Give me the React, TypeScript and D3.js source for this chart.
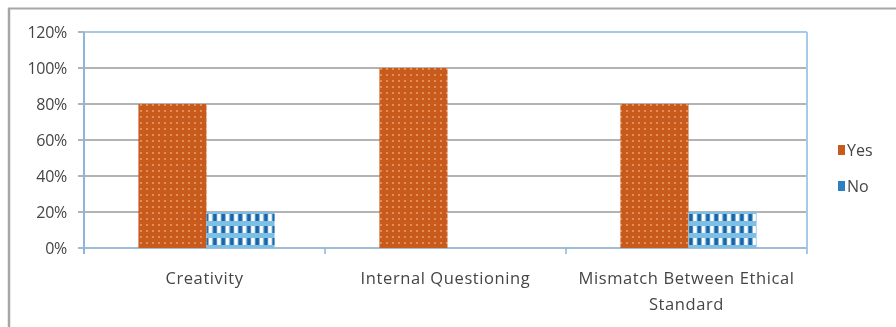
import React from "react";
import * as d3 from "d3";

// Survey results by reason category
const categories = ["Creativity", "Internal Questioning", "Mismatch Between Ethical Standard"];
const yesValues = [80, 100, 80];
const noValues = [20, 0, 20];
const seriesNames = ["Yes", "No"];
const yTicks = [0, 20, 40, 60, 80, 100, 120];

const W = 896;
const H = 327;
const plot = { left: 84, right: 807, top: 32, bottom: 248 };
const FONT = "'Open Sans', 'Liberation Sans', sans-serif";
const TEXT = "#454545";

export default function App() {
  const x = d3
    .scaleBand<string>()
    .domain(categories)
    .range([plot.left, plot.right])
    .paddingInner(0)
    .paddingOuter(0);
  const inner = d3
    .scaleBand<string>()
    .domain(seriesNames)
    .range([0, x.bandwidth()])
    .paddingInner(0)
    .paddingOuter(0.77);
  const y = d3.scaleLinear().domain([0, 120]).range([plot.bottom, plot.top]);

  const rows = categories.map((c, i) => ({ c, vals: [yesValues[i], noValues[i]] }));
  const fills = ["url(#patYes)", "url(#patNo)"];

  const catLines = (c: string) =>
    c === "Mismatch Between Ethical Standard" ? ["Mismatch Between Ethical", "Standard"] : [c];

  return (
    <svg
      width={W}
      height={H}
      style={{ position: "absolute", left: 0, top: 0, display: "block", background: "#fff" }}
    >
      <defs>
        <pattern id="patYes" width={6} height={6} patternUnits="userSpaceOnUse">
          <rect width={6} height={6} fill="#c85a1e" />
          <circle cx={3} cy={3} r={1.1} fill="#e89a68" />
        </pattern>
        <pattern id="patNo" width={8.5} height={12} patternUnits="userSpaceOnUse" y={plot.bottom}>
          <rect width={8.5} height={12} fill="#7cc0e6" />
          <rect x={0.5} y={2} width={4} height={7} fill="#1c63a6" />
          <rect x={4.5} y={2} width={3.6} height={7} fill="#ffffff" />
        </pattern>
        <filter id="soft" x="-5%" y="-5%" width="110%" height="110%">
          <feGaussianBlur stdDeviation={0.45} />
        </filter>
      </defs>

      <g filter="url(#soft)">
        {/* outer chart border */}
        <line x1={9} x2={9} y1={8} y2={H} stroke="#a6a6a6" strokeWidth={2.5} />
        <line x1={8} x2={W} y1={8.5} y2={8.5} stroke="#a6a6a6" strokeWidth={2} />

        {/* gridlines */}
        {yTicks.map((t) => (
          <line
            key={t}
            x1={plot.left - 6}
            x2={plot.right}
            y1={y(t)}
            y2={y(t)}
            stroke={t === 0 ? "#7fa6cc" : "#9a9a9a"}
            strokeWidth={1.6}
          />
        ))}

        {/* plot area outline */}
        <line x1={plot.left} x2={plot.right} y1={plot.top} y2={plot.top} stroke="#a9c9e6" strokeWidth={2} />
        <line x1={plot.right} x2={plot.right} y1={plot.top} y2={plot.bottom} stroke="#a9c9e6" strokeWidth={2} />
        <line x1={plot.left} x2={plot.left} y1={plot.top} y2={plot.bottom + 6} stroke="#8fb5da" strokeWidth={2} />

        {/* category ticks */}
        {[...categories.map((c) => x(c) as number), plot.right].map((px, i) => (
          <line key={i} x1={px} x2={px} y1={plot.bottom} y2={plot.bottom + 6} stroke="#8fb5da" strokeWidth={1.5} />
        ))}

        {/* bars */}
        {rows.map((r) =>
          r.vals.map((v, j) =>
            v > 0 ? (
              <rect
                key={r.c + j}
                x={(x(r.c) as number) + (inner(seriesNames[j]) as number) + 2}
                y={y(v)}
                width={inner.bandwidth()}
                height={y(0) - y(v)}
                fill={fills[j]}
              />
            ) : null
          )
        )}

        {/* y tick labels */}
        {yTicks.map((t) => (
          <text
            key={t}
            x={67}
            y={y(t)}
            dy="0.36em"
            textAnchor="end"
            fontFamily={FONT}
            fontSize={16}
            fill={TEXT}
            letterSpacing={-0.3}
          >
            {t}%
          </text>
        ))}

        {/* category labels */}
        {categories.map((c) => (
          <text
            key={c}
            x={(x(c) as number) + x.bandwidth() / 2}
            y={284}
            textAnchor="middle"
            fontFamily={FONT}
            fontSize={16.5}
            fill={TEXT}
            letterSpacing={0.6}
          >
            {catLines(c).map((ln, k) => (
              <tspan key={k} x={(x(c) as number) + x.bandwidth() / 2} dy={k === 0 ? 0 : 26}>
                {ln}
              </tspan>
            ))}
          </text>
        ))}

        {/* legend */}
        {seriesNames.map((s, j) => (
          <g key={s} transform={`translate(838, ${150 + j * 36})`}>
            <rect x={0} y={-5} width={7} height={10} fill={j === 0 ? "#c85a1e" : "#2e7fc0"} />
            <text x={9} y={0} dy="0.36em" fontFamily={FONT} fontSize={16} fill={TEXT}>
              {s}
            </text>
          </g>
        ))}
      </g>
    </svg>
  );
}
